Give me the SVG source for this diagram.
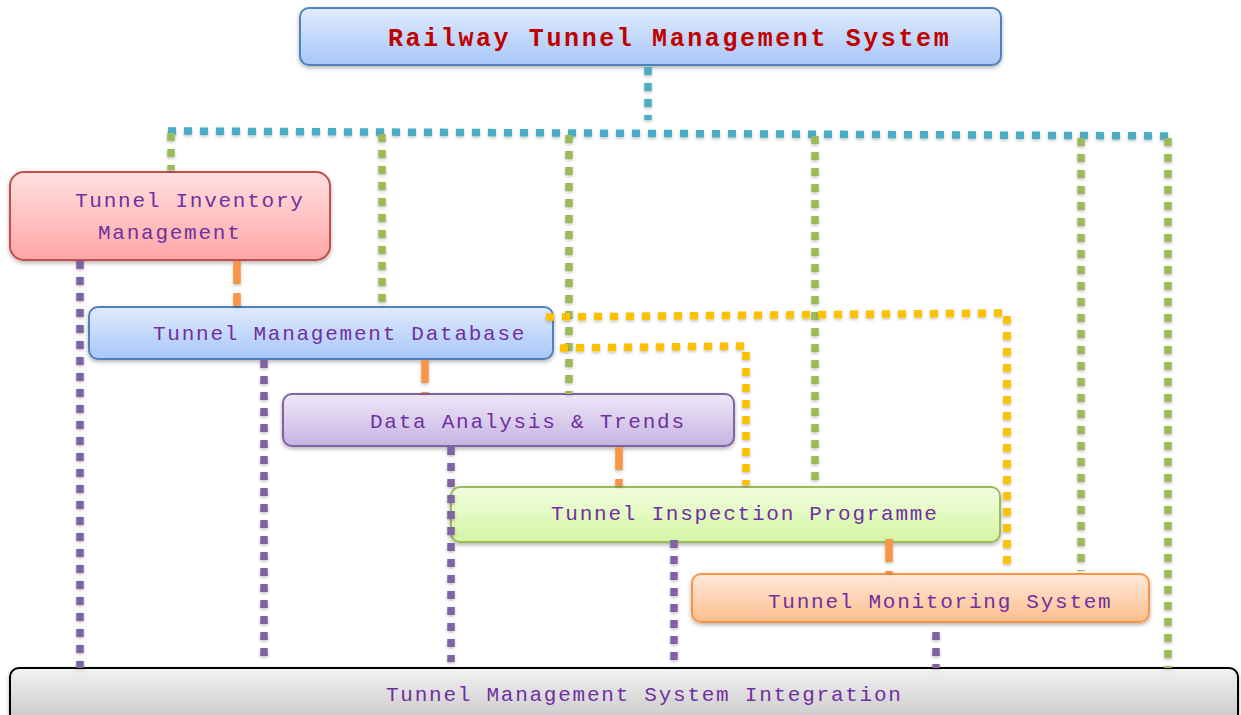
<svg xmlns="http://www.w3.org/2000/svg" width="1241" height="715" viewBox="0 0 1241 715">
<defs>
<filter id="sh" x="-10%" y="-10%" width="120%" height="140%"><feDropShadow dx="0" dy="2" stdDeviation="2" flood-color="#000" flood-opacity="0.3"/></filter>
<filter id="lsh" filterUnits="userSpaceOnUse" x="0" y="0" width="1241" height="715"><feDropShadow dx="0" dy="1.5" stdDeviation="1.5" flood-color="#000" flood-opacity="0.25"/></filter>
<linearGradient id="gBlue" x1="0" y1="0" x2="0" y2="1"><stop offset="0" stop-color="#e0ebfd"/><stop offset="1" stop-color="#a8c7f7"/></linearGradient>
<linearGradient id="gRed" x1="0" y1="0" x2="0" y2="1"><stop offset="0" stop-color="#ffe0e0"/><stop offset="1" stop-color="#ffa6a6"/></linearGradient>
<linearGradient id="gPurple" x1="0" y1="0" x2="0" y2="1"><stop offset="0" stop-color="#efe8f8"/><stop offset="1" stop-color="#c6b3e2"/></linearGradient>
<linearGradient id="gGreen" x1="0" y1="0" x2="0" y2="1"><stop offset="0" stop-color="#f3fde0"/><stop offset="1" stop-color="#d3f5a2"/></linearGradient>
<linearGradient id="gOrange" x1="0" y1="0" x2="0" y2="1"><stop offset="0" stop-color="#ffeadb"/><stop offset="1" stop-color="#fdbd8c"/></linearGradient>
<linearGradient id="gGray" x1="0" y1="0" x2="0" y2="1"><stop offset="0" stop-color="#f2f2f2"/><stop offset="1" stop-color="#c4c4c4"/></linearGradient>
</defs>
<style>
.box{stroke-width:2;filter:url(#sh)}
.lbl{font-family:"Liberation Mono","DejaVu Sans Mono",monospace;font-size:21px;fill:#7030a0;letter-spacing:1.75px}
.title{font-family:"Liberation Mono","DejaVu Sans Mono",monospace;font-size:25px;font-weight:bold;fill:#c00000;letter-spacing:2.6px}
.c{fill:none;stroke-width:7.5;filter:url(#lsh)}
.blue{stroke:#4bacc6;stroke-dasharray:8 8}
.green{stroke:#9bbb59;stroke-dasharray:8 8}
.purple{stroke:#8064a2;stroke-dasharray:8 8}
.yellow{stroke:#ffc000;stroke-dasharray:8 8}
.orange{stroke:#f79646;stroke-dasharray:23 9}
</style>
<g id="title">
<rect class="box" x="300" y="8" width="701" height="57" rx="9" fill="url(#gBlue)" stroke="#4f81bd"/>
<text class="title" x="388" y="46">Railway Tunnel Management System</text>
</g>
<g id="inventory">
<rect class="box" x="10" y="172" width="320" height="88" rx="14" fill="url(#gRed)" stroke="#c0504d"/>
<text class="lbl" x="75" y="207">Tunnel Inventory</text>
<text class="lbl" x="98" y="239">Management</text>
</g>
<g id="database">
<rect class="box" x="89" y="307" width="464" height="52" rx="9" fill="url(#gBlue)" stroke="#4f81bd"/>
<text class="lbl" x="153" y="340">Tunnel Management Database</text>
</g>
<g id="analysis">
<rect class="box" x="283" y="394" width="451" height="52" rx="9" fill="url(#gPurple)" stroke="#8064a2"/>
<text class="lbl" x="370" y="428">Data Analysis &amp; Trends</text>
</g>
<g id="inspection">
<rect class="box" x="451" y="487" width="549" height="55" rx="9" fill="url(#gGreen)" stroke="#9bbb59"/>
<text class="lbl" x="551" y="520">Tunnel Inspection Programme</text>
</g>
<g id="monitoring">
<rect class="box" x="692" y="574" width="457" height="48" rx="9" fill="url(#gOrange)" stroke="#f79646"/>
<text class="lbl" x="768" y="608">Tunnel Monitoring System</text>
</g>
<g id="integration">
<rect class="box" x="10" y="668" width="1228" height="60" rx="9" fill="url(#gGray)" stroke="#000"/>
<text class="lbl" x="386" y="701">Tunnel Management System Integration</text>
</g>
<g id="connectors">
<path class="c blue" d="M648 67 V120"/>
<path class="c blue" d="M168 131 L1172 136"/>
<path class="c green" d="M171 133 V170"/>
<path class="c green" d="M382 134 V305"/>
<path class="c green" d="M569 135 V394"/>
<path class="c green" d="M815 136 V486"/>
<path class="c green" d="M1081 138 V571"/>
<path class="c green" d="M1168 138 V668"/>
<path class="c yellow" d="M546 317 L1007 313 V572"/>
<path class="c yellow" d="M560 348 L746 346 V485"/>
<path class="c orange" d="M237 261 V306"/>
<path class="c orange" d="M425 360 V393"/>
<path class="c orange" d="M619 447 V486"/>
<path class="c orange" d="M889 539 V573"/>
<path class="c purple" d="M80 261 V668"/>
<path class="c purple" d="M264 360 V658"/>
<path class="c purple" d="M451 447 V662"/>
<path class="c purple" d="M674 540 V660"/>
<path class="c purple" d="M936 632 V668"/>
</g>
</svg>
